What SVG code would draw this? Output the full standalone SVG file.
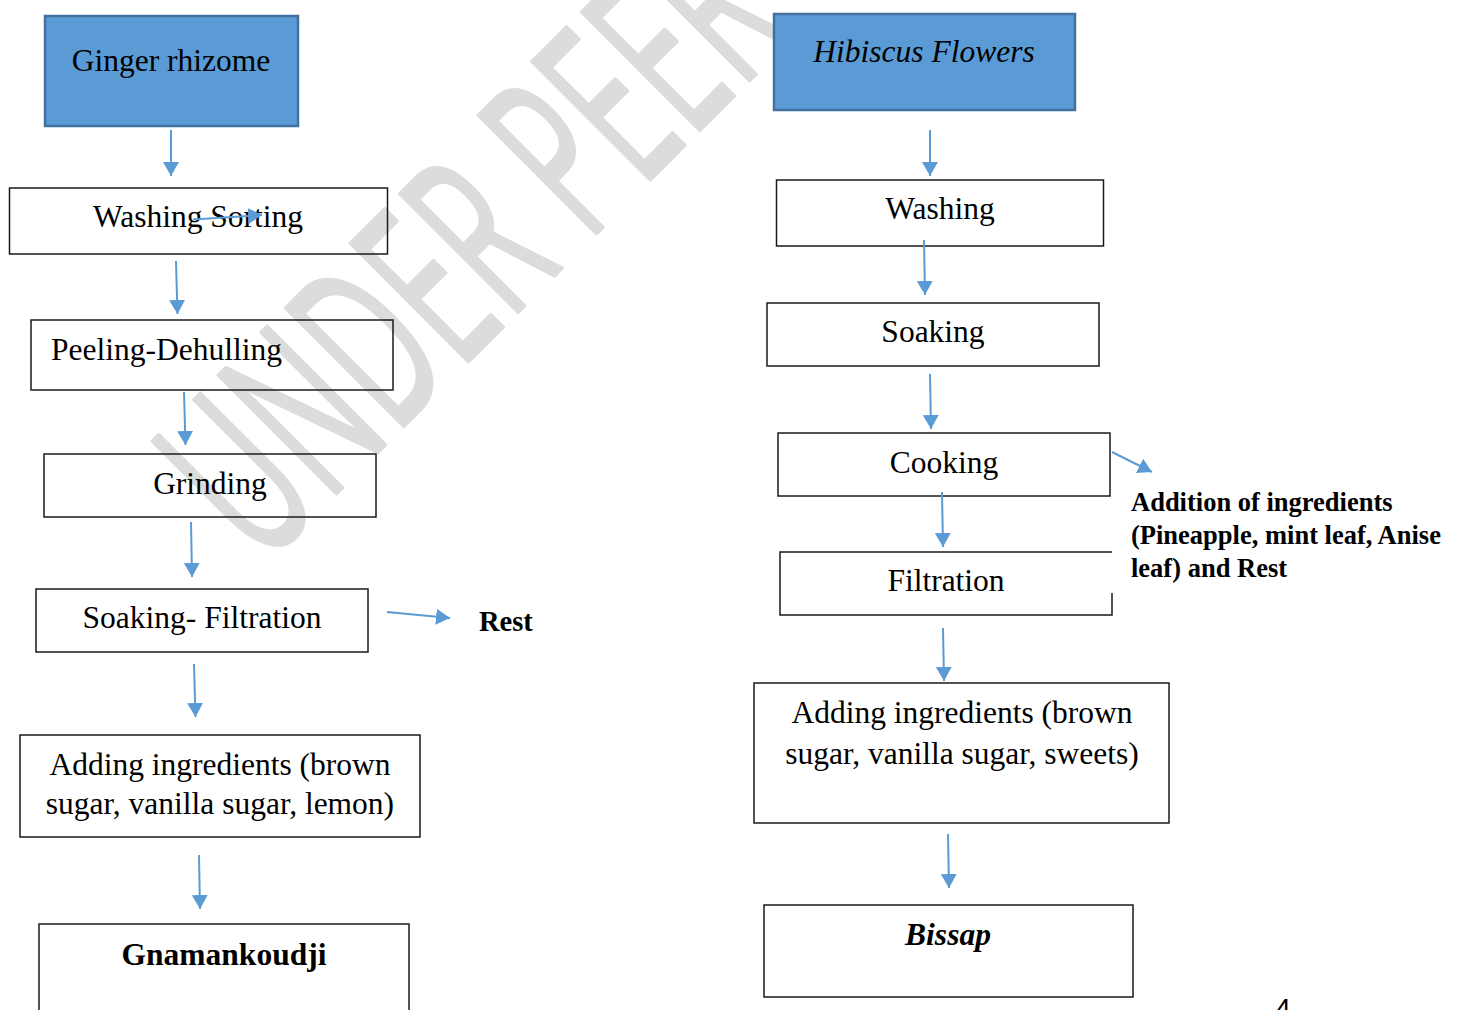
<svg xmlns="http://www.w3.org/2000/svg" width="1459" height="1010" viewBox="0 0 1459 1010">
<style>
.box{fill:none;stroke:#1a1a1a;stroke-width:1.5}
.start{fill:#5b9bd5;stroke:#41719c;stroke-width:2.5}
.t{font-family:"Liberation Serif","Times New Roman",serif;font-size:31.5px;fill:#000}
.c{text-anchor:middle}
.b{font-weight:bold}
.i{font-style:italic}
.lbl{font-family:"Liberation Serif","Times New Roman",serif;font-size:26.5px;font-weight:bold;fill:#000}
.arr{stroke:#5b9bd5;stroke-width:2;fill:none;marker-end:url(#ah)}
.wm{font-family:"Open Sans","DejaVu Sans",sans-serif;font-size:234px;fill:#dcdcdc;stroke:#dcdcdc;stroke-width:3;stroke-linejoin:round;vector-effect:non-scaling-stroke}
</style>
<defs>
<marker id="ah" viewBox="0 0 14 16" refX="14" refY="8" markerWidth="14" markerHeight="16" markerUnits="userSpaceOnUse" orient="auto">
<path d="M0,0 L14,8 L0,16 Z" fill="#5b9bd5"/>
</marker>
</defs>
<rect width="1459" height="1010" fill="#fff"/>
<g id="watermark">
<text class="wm" transform="translate(262,568) rotate(-45) scale(0.54,1)">UNDER PEER</text>
</g>
<g id="ginger"><rect class="start" x="45" y="16" width="253" height="110"/><text class="t c" x="171" y="71">Ginger rhizome</text></g>
<g id="washsort"><rect class="box" x="9.5" y="188" width="378" height="66"/><text class="t c" x="198" y="227">Washing Sorting</text></g>
<g id="peeling"><rect class="box" x="31" y="320" width="362" height="70"/><text class="t" x="51" y="360">Peeling-Dehulling</text></g>
<g id="grinding"><rect class="box" x="44" y="454" width="332" height="63"/><text class="t c" x="210" y="494">Grinding</text></g>
<g id="soakfilt"><rect class="box" x="36" y="589" width="332" height="63"/><text class="t c" x="202" y="628">Soaking- Filtration</text></g>
<g id="rest"><text class="t b" x="479" y="631" style="font-size:28.5px">Rest</text></g>
<g id="addleft"><rect class="box" x="20" y="735" width="400" height="102"/><text class="t c" x="220" y="775">Adding ingredients (brown</text><text class="t c" x="220" y="814">sugar, vanilla sugar, lemon)</text></g>
<g id="gnaman"><rect class="box" x="39" y="924" width="370" height="120"/><text class="t c b" x="224" y="965">Gnamankoudji</text></g>
<g id="hibiscus"><rect class="start" x="774" y="14" width="301" height="96"/><text class="t c i" x="924" y="62">Hibiscus Flowers</text></g>
<g id="washing"><rect class="box" x="776.5" y="180" width="327" height="66"/><text class="t c" x="940" y="219">Washing</text></g>
<g id="soaking"><rect class="box" x="767" y="303" width="332" height="63"/><text class="t c" x="933" y="342">Soaking</text></g>
<g id="cooking"><rect class="box" x="778" y="433" width="332" height="63"/><text class="t c" x="944" y="473">Cooking</text></g>
<g id="filtration"><path class="box" d="M1112,593 V615 H780 V552 H1112"/><text class="t c" x="946" y="591">Filtration</text></g>
<g id="addition"><text class="lbl" x="1131" y="511">Addition of ingredients</text><text class="lbl" x="1131" y="544">(Pineapple, mint leaf, Anise</text><text class="lbl" x="1131" y="577">leaf) and Rest</text></g>
<g id="addright"><rect class="box" x="754" y="683" width="415" height="140"/><text class="t c" x="962" y="723">Adding ingredients (brown</text><text class="t c" x="962" y="764">sugar, vanilla sugar, sweets)</text></g>
<g id="bissap"><rect class="box" x="764" y="905" width="369" height="92"/><text class="t c b i" x="948" y="945">Bissap</text></g>
<g id="pagenum"><text x="1283" y="1018" text-anchor="middle" style="font-family:'Liberation Sans',Arial,sans-serif;font-size:28px;fill:#000">4</text></g>
<g id="connectors">
<line class="arr" x1="171" y1="130" x2="171" y2="176"/>
<line class="arr" x1="193" y1="219.5" x2="262" y2="215"/>
<line class="arr" x1="176" y1="261" x2="177.5" y2="314"/>
<line class="arr" x1="184" y1="392" x2="185.5" y2="445"/>
<line class="arr" x1="191" y1="522" x2="192" y2="577"/>
<line class="arr" x1="387" y1="612" x2="450" y2="618"/>
<line class="arr" x1="194" y1="664" x2="195.5" y2="717"/>
<line class="arr" x1="199" y1="855" x2="200" y2="909"/>
<line class="arr" x1="930" y1="130" x2="930" y2="176"/>
<line class="arr" x1="924" y1="240" x2="925" y2="295"/>
<line class="arr" x1="930" y1="374" x2="931" y2="429"/>
<line class="arr" x1="1112" y1="452" x2="1152" y2="472"/>
<line class="arr" x1="942" y1="492" x2="943" y2="547"/>
<line class="arr" x1="943" y1="628" x2="944" y2="681"/>
<line class="arr" x1="948" y1="834" x2="949" y2="888"/>
</g>
</svg>
